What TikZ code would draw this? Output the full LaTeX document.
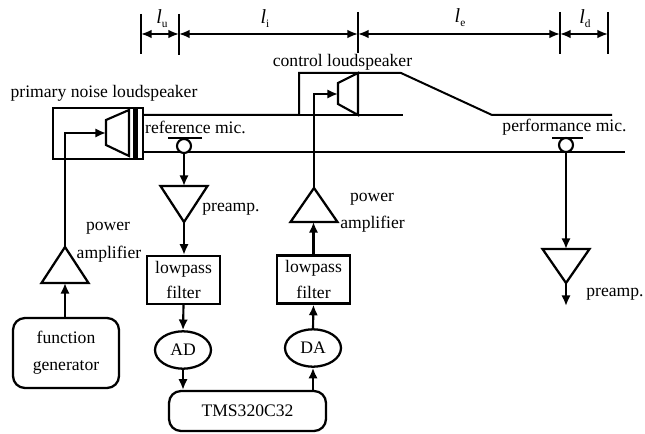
\documentclass[tikz,border=0pt]{standalone}
\usepackage{fontspec}
\setmainfont{Liberation Serif}
\usetikzlibrary{arrows.meta,positioning,shapes.geometric}

\newcommand{\lsub}[1]{\fontsize{15}{15}\selectfont\textit{l}\raisebox{-3pt}{\fontsize{8.5}{8.5}\selectfont #1}}

\tikzset{
  sigline/.style={line width=1.6pt,-{Latex[length=8pt,width=7pt]}},
  wall/.style={line width=1.5pt},
  dimline/.style={line width=1.4pt,{Latex[length=8pt,width=6.5pt]}-{Latex[length=8pt,width=6.5pt]}},
  lbl/.style={inner sep=0pt,font=\fontsize{13.2}{15}\selectfont},
  filterbox/.style={draw,line width=1.7pt,minimum width=55pt,minimum height=36pt,inner sep=0pt,align=center,font=\fontsize{13.2}{19}\selectfont},
  roundbox/.style={draw,line width=1.7pt,rounded corners=9pt,inner sep=0pt,align=center,font=\fontsize{13.2}{20}\selectfont},
  convert/.style={draw,ellipse,line width=1.7pt,minimum width=42pt,minimum height=28pt,inner sep=0pt,font=\fontsize{13.2}{15}\selectfont},
}

\begin{document}
\begin{tikzpicture}[x=0.75pt,y=-0.75pt]
  \useasboundingbox (0,0) rectangle (645,434);
  % dimension marks above the duct
  \foreach \tname/\tx/\ta/\tb in {tu/141/14/54,ti/179/14/55,te/358/12/53,td/560/12/54,tf/608/12/54} {
    \coordinate (\tname top) at (\tx,\ta);
    \coordinate (\tname bot) at (\tx,\tb);
    \coordinate (\tname mid) at (\tx,34);
    \draw[line width=1.7pt] (\tname top) -- (\tname bot);
  }
  \draw[dimline] (tumid) -- (timid);
  \draw[dimline] (timid) -- (temid);
  \draw[dimline] (temid) -- (tdmid);
  \draw[dimline] (tdmid) -- (tfmid);
  \node[lbl] (lu) at (162,19) {\lsub{u}};
  \node[lbl] (li) at (265,19) {\lsub{i}};
  \node[lbl] (le) at (460,18) {\lsub{e}};
  \node[lbl] (ld) at (585,19) {\lsub{d}};

  % duct walls
  \draw[wall] (143,115) -- (299,115) -- (299,73) -- (401,73) -- (492,115) -- (612,115);
  \draw[wall] (299,115) -- (403,115);
  \draw[wall] (143,152) -- (625,152);

  % primary loudspeaker
  \draw[wall] (53,108) rectangle (143,159);
  \fill (133,108) rectangle (137.5,158);
  \coordinate (conea) at (106,133);
  \draw[line width=1.6pt] (129,110) -- (106,120) -- (106,145) -- (129,156) -- cycle;
  % control loudspeaker
  \coordinate (coneb) at (338,94);
  \draw[line width=1.6pt] (358,73) -- (338,83) -- (338,104) -- (358,115) -- cycle;

  % microphones
  \draw[line width=1.5pt] (168,138) -- (202,138);
  \node[draw,circle,line width=1.6pt,minimum size=10.5pt,inner sep=0pt,fill=white] (micref) at (184,146) {};
  \draw[line width=1.5pt] (552,138) -- (583,138);
  \node[draw,circle,line width=1.6pt,minimum size=10.5pt,inner sep=0pt,fill=white] (micperf) at (566,145) {};

  % amplifier triangles
  \foreach \aname/\ax/\atip/\abase in {ampa/65/247/283,ampb/184/222/186,ampc/314/188/222,ampd/566/283/249} {
    \coordinate (\aname tip) at (\ax,\atip);
    \coordinate (\aname base) at (\ax,\abase);
    \draw[line width=1.7pt] (\aname tip) -- (\ax-23.5,\abase) -- (\ax+23.5,\abase) -- cycle;
  }

  % blocks
  \node[roundbox,minimum width=79.5pt,minimum height=52.5pt] (funcgen) at (66,353) {function\\generator};
  \node[filterbox] (lpfa) at (183.5,280) {lowpass\\filter};
  \node[filterbox] (lpfb) at (313.5,279.5) {lowpass\\filter};
  \node[convert] (ad) at (183,350) {AD};
  \node[convert] (da) at (313,348) {DA};
  \node[roundbox,minimum width=117.75pt,minimum height=30pt] (dsp) at (247.5,411) {TMS320C32};

  % signal path
  \draw[sigline] (funcgen.north -| ampabase) -- (ampabase);
  \draw[sigline] (ampatip) -- (65,133) -- (conea);
  \draw[sigline] (micref.south) -- (ampbbase);
  \draw[sigline] (ampbtip) -- (lpfa.north -| ampbtip);
  \draw[sigline] (lpfa.south) -- (ad.north);
  \draw[sigline] (ad.south) -- (dsp.north -| ad.south);
  \draw[sigline] (dsp.north -| da.south) -- (da.south);
  \draw[sigline] (da.north) -- (lpfb.south);
  \draw[sigline] (lpfb.north) -- (lpfb.north |- ampcbase);
  \draw[sigline] (ampctip) -- (314,94) -- (coneb);
  \draw[sigline] (micperf.south) -- (ampdbase);
  \coordinate (outd) at (566,306);
  \draw[sigline] (ampdtip) -- (outd);

  % labels
  \node[lbl] (lblprim) at (104,93) {primary noise loudspeaker};
  \node[lbl] (lblctrl) at (342.5,62) {control loudspeaker};
  \node[lbl] (lblref) at (195.5,127) {reference mic.};
  \node[lbl] (lblperf) at (564.5,127) {performance mic.};
  \node[lbl] (lblpra) at (231,209) {preamp.};
  \node[lbl] (lblprb) at (615,294) {preamp.};
  \node[lbl] (lblpwa) at (108,228) {power};
  \node[lbl] (lblama) at (109,254) {amplifier};
  \node[lbl] (lblpwb) at (372,199) {power};
  \node[lbl] (lblamb) at (372.5,224) {amplifier};
\end{tikzpicture}
\end{document}
